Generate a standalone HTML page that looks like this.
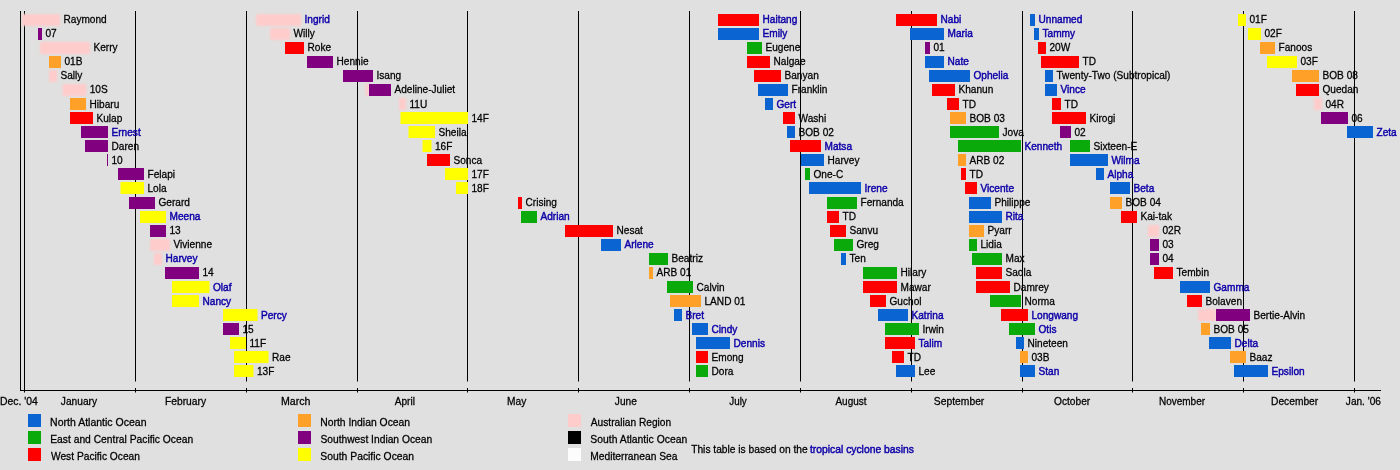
<!DOCTYPE html>
<html lang="en"><head><meta charset="utf-8"><title>Tropical cyclones in 2005 timeline</title>
<style>html,body{margin:0;padding:0;background:#e0e0e0;overflow:hidden}svg{display:block}</style></head>
<body>
<svg width="1400" height="470" viewBox="0 0 1400 470" font-family="'Liberation Sans', sans-serif" font-size="11.0">
<rect width="1400" height="470" fill="#e0e0e0"/>
<g fill="#000">
<rect x="20" y="11" width="1" height="380"/>
<rect x="24" y="11" width="1" height="381.5"/>
<rect x="135" y="11" width="1" height="370.5"/>
<rect x="135" y="388" width="1" height="4.5"/>
<rect x="246" y="11" width="1" height="370.5"/>
<rect x="246" y="388" width="1" height="4.5"/>
<rect x="357" y="11" width="1" height="370.5"/>
<rect x="357" y="388" width="1" height="4.5"/>
<rect x="467" y="11" width="1" height="370.5"/>
<rect x="467" y="388" width="1" height="4.5"/>
<rect x="578" y="11" width="1" height="370.5"/>
<rect x="578" y="388" width="1" height="4.5"/>
<rect x="689" y="11" width="1" height="370.5"/>
<rect x="689" y="388" width="1" height="4.5"/>
<rect x="800" y="11" width="1" height="370.5"/>
<rect x="800" y="388" width="1" height="4.5"/>
<rect x="911" y="11" width="1" height="370.5"/>
<rect x="911" y="388" width="1" height="4.5"/>
<rect x="1022" y="11" width="1" height="370.5"/>
<rect x="1022" y="388" width="1" height="4.5"/>
<rect x="1132" y="11" width="1" height="370.5"/>
<rect x="1132" y="388" width="1" height="4.5"/>
<rect x="1243" y="11" width="1" height="370.5"/>
<rect x="1243" y="388" width="1" height="4.5"/>
<rect x="1354" y="11" width="1" height="370.5"/>
<rect x="1354" y="388" width="1" height="4.5"/>
<rect x="20" y="390" width="1361" height="1"/>
</g>
<defs><filter id="soft" x="-20%" y="-20%" width="140%" height="140%"><feGaussianBlur stdDeviation="0.8"/></filter></defs>
<g shape-rendering="auto">
<rect x="22" y="14.00" width="38.00" height="12.0" fill="#ffcccc" filter="url(#soft)"/>
<rect x="38" y="28.00" width="4.00" height="12.0" fill="#800080"/>
<rect x="40" y="42.00" width="50.00" height="12.0" fill="#ffcccc" filter="url(#soft)"/>
<rect x="49" y="56.00" width="12.00" height="12.0" fill="#ffa028"/>
<rect x="49" y="70.00" width="8.00" height="12.0" fill="#ffcccc" filter="url(#soft)"/>
<rect x="62.5" y="84.00" width="23.75" height="12.0" fill="#ffcccc" filter="url(#soft)"/>
<rect x="70" y="98.00" width="16.00" height="12.0" fill="#ffa028"/>
<rect x="70" y="112.00" width="23.00" height="12.0" fill="#ff0000"/>
<rect x="81" y="126.00" width="27.00" height="12.0" fill="#800080"/>
<rect x="85" y="140.00" width="23.00" height="12.0" fill="#800080"/>
<rect x="107" y="154.00" width="1.00" height="12.0" fill="#800080"/>
<rect x="118" y="168.00" width="26.00" height="12.0" fill="#800080"/>
<rect x="120.5" y="182.00" width="23.50" height="12.0" fill="#ffff00"/>
<rect x="129" y="197.00" width="26.00" height="12.0" fill="#800080"/>
<rect x="140" y="211.00" width="26.00" height="12.0" fill="#ffff00"/>
<rect x="150" y="225.00" width="16.00" height="12.0" fill="#800080"/>
<rect x="150" y="239.00" width="20.00" height="12.0" fill="#ffcccc" filter="url(#soft)"/>
<rect x="154" y="253.00" width="8.00" height="12.0" fill="#ffcccc" filter="url(#soft)"/>
<rect x="165" y="267.00" width="34.00" height="12.0" fill="#800080"/>
<rect x="172" y="281.00" width="37.50" height="12.0" fill="#ffff00"/>
<rect x="172" y="295.00" width="27.00" height="12.0" fill="#ffff00"/>
<rect x="223" y="309.00" width="34.50" height="12.0" fill="#ffff00"/>
<rect x="223" y="323.00" width="16.00" height="12.0" fill="#800080"/>
<rect x="230" y="337.00" width="16.00" height="12.0" fill="#ffff00"/>
<rect x="234" y="351.00" width="34.50" height="12.0" fill="#ffff00"/>
<rect x="234" y="365.00" width="19.50" height="12.0" fill="#ffff00"/>
<rect x="256" y="14.00" width="45.00" height="12.0" fill="#ffcccc" filter="url(#soft)"/>
<rect x="270" y="28.00" width="20.00" height="12.0" fill="#ffcccc" filter="url(#soft)"/>
<rect x="285" y="42.00" width="19.00" height="12.0" fill="#ff0000"/>
<rect x="307" y="56.00" width="26.00" height="12.0" fill="#800080"/>
<rect x="343" y="70.00" width="30.00" height="12.0" fill="#800080"/>
<rect x="365.5" y="84.00" width="3.50" height="12.0" fill="#ffcccc" filter="url(#soft)"/>
<rect x="369" y="84.00" width="22.00" height="12.0" fill="#800080"/>
<rect x="399" y="98.00" width="7.00" height="12.0" fill="#ffcccc" filter="url(#soft)"/>
<rect x="400.5" y="112.00" width="67.50" height="12.0" fill="#ffff00"/>
<rect x="408.5" y="126.00" width="26.50" height="12.0" fill="#ffff00"/>
<rect x="422.5" y="140.00" width="9.00" height="12.0" fill="#ffff00"/>
<rect x="427" y="154.00" width="23.00" height="12.0" fill="#ff0000"/>
<rect x="445" y="168.00" width="23.00" height="12.0" fill="#ffff00"/>
<rect x="456" y="182.00" width="12.00" height="12.0" fill="#ffff00"/>
<rect x="518" y="197.00" width="4.00" height="12.0" fill="#ff0000"/>
<rect x="521" y="211.00" width="16.00" height="12.0" fill="#0aaa0a"/>
<rect x="565" y="225.00" width="48.00" height="12.0" fill="#ff0000"/>
<rect x="601" y="239.00" width="20.00" height="12.0" fill="#0a64d2"/>
<rect x="649" y="253.00" width="19.00" height="12.0" fill="#0aaa0a"/>
<rect x="649" y="267.00" width="4.00" height="12.0" fill="#ffa028"/>
<rect x="667" y="281.00" width="26.00" height="12.0" fill="#0aaa0a"/>
<rect x="670" y="295.00" width="31.00" height="12.0" fill="#ffa028"/>
<rect x="674" y="309.00" width="8.00" height="12.0" fill="#0a64d2"/>
<rect x="692" y="323.00" width="16.00" height="12.0" fill="#0a64d2"/>
<rect x="696" y="337.00" width="34.00" height="12.0" fill="#0a64d2"/>
<rect x="696" y="351.00" width="12.00" height="12.0" fill="#ff0000"/>
<rect x="696" y="365.00" width="12.00" height="12.0" fill="#0aaa0a"/>
<rect x="718" y="14.00" width="41.00" height="12.0" fill="#ff0000"/>
<rect x="718" y="28.00" width="41.00" height="12.0" fill="#0a64d2"/>
<rect x="747" y="42.00" width="15.00" height="12.0" fill="#0aaa0a"/>
<rect x="747" y="56.00" width="23.00" height="12.0" fill="#ff0000"/>
<rect x="754" y="70.00" width="27.00" height="12.0" fill="#ff0000"/>
<rect x="758" y="84.00" width="30.00" height="12.0" fill="#0a64d2"/>
<rect x="765" y="98.00" width="8.00" height="12.0" fill="#0a64d2"/>
<rect x="783" y="112.00" width="12.00" height="12.0" fill="#ff0000"/>
<rect x="787" y="126.00" width="8.00" height="12.0" fill="#0a64d2"/>
<rect x="790" y="140.00" width="31.00" height="12.0" fill="#ff0000"/>
<rect x="801" y="154.00" width="23.00" height="12.0" fill="#0a64d2"/>
<rect x="805" y="168.00" width="5.00" height="12.0" fill="#0aaa0a"/>
<rect x="809" y="182.00" width="52.00" height="12.0" fill="#0a64d2"/>
<rect x="827" y="197.00" width="30.00" height="12.0" fill="#0aaa0a"/>
<rect x="827" y="211.00" width="12.00" height="12.0" fill="#ff0000"/>
<rect x="830" y="225.00" width="16.00" height="12.0" fill="#ff0000"/>
<rect x="834" y="239.00" width="19.00" height="12.0" fill="#0aaa0a"/>
<rect x="841" y="253.00" width="5.00" height="12.0" fill="#0a64d2"/>
<rect x="863" y="267.00" width="34.00" height="12.0" fill="#0aaa0a"/>
<rect x="863" y="281.00" width="34.00" height="12.0" fill="#ff0000"/>
<rect x="870" y="295.00" width="16.00" height="12.0" fill="#ff0000"/>
<rect x="878" y="309.00" width="30.00" height="12.0" fill="#0a64d2"/>
<rect x="885" y="323.00" width="34.00" height="12.0" fill="#0aaa0a"/>
<rect x="885" y="337.00" width="30.00" height="12.0" fill="#ff0000"/>
<rect x="892" y="351.00" width="12.00" height="12.0" fill="#ff0000"/>
<rect x="896" y="365.00" width="19.00" height="12.0" fill="#0a64d2"/>
<rect x="896" y="14.00" width="41.00" height="12.0" fill="#ff0000"/>
<rect x="910" y="28.00" width="34.00" height="12.0" fill="#0a64d2"/>
<rect x="925" y="42.00" width="5.00" height="12.0" fill="#800080"/>
<rect x="925" y="56.00" width="19.00" height="12.0" fill="#0a64d2"/>
<rect x="929" y="70.00" width="41.00" height="12.0" fill="#0a64d2"/>
<rect x="932" y="84.00" width="23.00" height="12.0" fill="#ff0000"/>
<rect x="947" y="98.00" width="12.00" height="12.0" fill="#ff0000"/>
<rect x="950" y="112.00" width="16.00" height="12.0" fill="#ffa028"/>
<rect x="950" y="126.00" width="49.00" height="12.0" fill="#0aaa0a"/>
<rect x="958" y="140.00" width="63.00" height="12.0" fill="#0aaa0a"/>
<rect x="958" y="154.00" width="8.00" height="12.0" fill="#ffa028"/>
<rect x="961" y="168.00" width="5.00" height="12.0" fill="#ff0000"/>
<rect x="965" y="182.00" width="12.00" height="12.0" fill="#ff0000"/>
<rect x="969" y="197.00" width="22.00" height="12.0" fill="#0a64d2"/>
<rect x="969" y="211.00" width="33.00" height="12.0" fill="#0a64d2"/>
<rect x="969" y="225.00" width="15.00" height="12.0" fill="#ffa028"/>
<rect x="969" y="239.00" width="8.00" height="12.0" fill="#0aaa0a"/>
<rect x="972" y="253.00" width="30.00" height="12.0" fill="#0aaa0a"/>
<rect x="976" y="267.00" width="26.00" height="12.0" fill="#ff0000"/>
<rect x="976" y="281.00" width="34.00" height="12.0" fill="#ff0000"/>
<rect x="990" y="295.00" width="31.00" height="12.0" fill="#0aaa0a"/>
<rect x="1001" y="309.00" width="27.00" height="12.0" fill="#ff0000"/>
<rect x="1009" y="323.00" width="26.00" height="12.0" fill="#0aaa0a"/>
<rect x="1016" y="337.00" width="8.00" height="12.0" fill="#0a64d2"/>
<rect x="1020" y="351.00" width="8.00" height="12.0" fill="#ffa028"/>
<rect x="1020" y="365.00" width="15.00" height="12.0" fill="#0a64d2"/>
<rect x="1030" y="14.00" width="5.00" height="12.0" fill="#0a64d2"/>
<rect x="1034" y="28.00" width="5.00" height="12.0" fill="#0a64d2"/>
<rect x="1038" y="42.00" width="8.00" height="12.0" fill="#ff0000"/>
<rect x="1041" y="56.00" width="38.00" height="12.0" fill="#ff0000"/>
<rect x="1045" y="70.00" width="8.00" height="12.0" fill="#0a64d2"/>
<rect x="1045" y="84.00" width="12.00" height="12.0" fill="#0a64d2"/>
<rect x="1052" y="98.00" width="9.00" height="12.0" fill="#ff0000"/>
<rect x="1052" y="112.00" width="34.00" height="12.0" fill="#ff0000"/>
<rect x="1060" y="126.00" width="11.00" height="12.0" fill="#800080"/>
<rect x="1070" y="140.00" width="20.00" height="12.0" fill="#0aaa0a"/>
<rect x="1070" y="154.00" width="38.00" height="12.0" fill="#0a64d2"/>
<rect x="1096" y="168.00" width="8.00" height="12.0" fill="#0a64d2"/>
<rect x="1110" y="182.00" width="20.00" height="12.0" fill="#0a64d2"/>
<rect x="1110" y="197.00" width="12.00" height="12.0" fill="#ffa028"/>
<rect x="1121" y="211.00" width="16.00" height="12.0" fill="#ff0000"/>
<rect x="1148" y="225.00" width="11.00" height="12.0" fill="#ffcccc" filter="url(#soft)"/>
<rect x="1150" y="239.00" width="9.00" height="12.0" fill="#800080"/>
<rect x="1150" y="253.00" width="9.00" height="12.0" fill="#800080"/>
<rect x="1154" y="267.00" width="19.00" height="12.0" fill="#ff0000"/>
<rect x="1180" y="281.00" width="30.00" height="12.0" fill="#0a64d2"/>
<rect x="1187" y="295.00" width="15.00" height="12.0" fill="#ff0000"/>
<rect x="1198" y="309.00" width="18.00" height="12.0" fill="#ffcccc" filter="url(#soft)"/>
<rect x="1216" y="309.00" width="34.00" height="12.0" fill="#800080"/>
<rect x="1201" y="323.00" width="9.00" height="12.0" fill="#ffa028"/>
<rect x="1209" y="337.00" width="22.00" height="12.0" fill="#0a64d2"/>
<rect x="1230" y="351.00" width="16.00" height="12.0" fill="#ffa028"/>
<rect x="1234" y="365.00" width="34.00" height="12.0" fill="#0a64d2"/>
<rect x="1238" y="14.00" width="8.00" height="12.0" fill="#ffff00"/>
<rect x="1248" y="28.00" width="13.00" height="12.0" fill="#ffff00"/>
<rect x="1260" y="42.00" width="15.00" height="12.0" fill="#ffa028"/>
<rect x="1267" y="56.00" width="30.00" height="12.0" fill="#ffff00"/>
<rect x="1292" y="70.00" width="27.00" height="12.0" fill="#ffa028"/>
<rect x="1296" y="84.00" width="23.00" height="12.0" fill="#ff0000"/>
<rect x="1314" y="98.00" width="8.00" height="12.0" fill="#ffcccc" filter="url(#soft)"/>
<rect x="1321" y="112.00" width="27.00" height="12.0" fill="#800080"/>
<rect x="1347" y="126.00" width="26.00" height="12.0" fill="#0a64d2"/>
</g>
<text transform="translate(63.50 23.10) scale(0.92 1)" fill="#000000" stroke="#000" stroke-width="0.28">Raymond</text>
<text transform="translate(45.50 37.17) scale(0.92 1)" fill="#000000" stroke="#000" stroke-width="0.28">07</text>
<text transform="translate(93.50 51.25) scale(0.92 1)" fill="#000000" stroke="#000" stroke-width="0.28">Kerry</text>
<text transform="translate(64.50 65.32) scale(0.92 1)" fill="#000000" stroke="#000" stroke-width="0.28">01B</text>
<text transform="translate(60.50 79.40) scale(0.92 1)" fill="#000000" stroke="#000" stroke-width="0.28">Sally</text>
<text transform="translate(89.75 93.47) scale(0.92 1)" fill="#000000" stroke="#000" stroke-width="0.28">10S</text>
<text transform="translate(89.50 107.55) scale(0.92 1)" fill="#000000" stroke="#000" stroke-width="0.28">Hibaru</text>
<text transform="translate(96.50 121.62) scale(0.92 1)" fill="#000000" stroke="#000" stroke-width="0.28">Kulap</text>
<text transform="translate(111.50 135.70) scale(0.92 1)" fill="#0d00a8" stroke="#0d00a8" stroke-width="0.45">Ernest</text>
<text transform="translate(111.50 149.78) scale(0.92 1)" fill="#000000" stroke="#000" stroke-width="0.28">Daren</text>
<text transform="translate(111.50 163.85) scale(0.92 1)" fill="#000000" stroke="#000" stroke-width="0.28">10</text>
<text transform="translate(147.50 177.92) scale(0.92 1)" fill="#000000" stroke="#000" stroke-width="0.28">Felapi</text>
<text transform="translate(147.50 192.00) scale(0.92 1)" fill="#000000" stroke="#000" stroke-width="0.28">Lola</text>
<text transform="translate(158.50 206.07) scale(0.92 1)" fill="#000000" stroke="#000" stroke-width="0.28">Gerard</text>
<text transform="translate(169.50 220.15) scale(0.92 1)" fill="#0d00a8" stroke="#0d00a8" stroke-width="0.45">Meena</text>
<text transform="translate(169.50 234.22) scale(0.92 1)" fill="#000000" stroke="#000" stroke-width="0.28">13</text>
<text transform="translate(173.50 248.30) scale(0.92 1)" fill="#000000" stroke="#000" stroke-width="0.28">Vivienne</text>
<text transform="translate(165.50 262.38) scale(0.92 1)" fill="#0d00a8" stroke="#0d00a8" stroke-width="0.45">Harvey</text>
<text transform="translate(202.50 276.45) scale(0.92 1)" fill="#000000" stroke="#000" stroke-width="0.28">14</text>
<text transform="translate(213.00 290.53) scale(0.92 1)" fill="#0d00a8" stroke="#0d00a8" stroke-width="0.45">Olaf</text>
<text transform="translate(202.50 304.60) scale(0.92 1)" fill="#0d00a8" stroke="#0d00a8" stroke-width="0.45">Nancy</text>
<text transform="translate(261.00 318.68) scale(0.92 1)" fill="#0d00a8" stroke="#0d00a8" stroke-width="0.45">Percy</text>
<text transform="translate(242.50 332.75) scale(0.92 1)" fill="#000000" stroke="#000" stroke-width="0.28">15</text>
<text transform="translate(249.50 346.82) scale(0.92 1)" fill="#000000" stroke="#000" stroke-width="0.28">11F</text>
<text transform="translate(272.00 360.90) scale(0.92 1)" fill="#000000" stroke="#000" stroke-width="0.28">Rae</text>
<text transform="translate(257.00 374.98) scale(0.92 1)" fill="#000000" stroke="#000" stroke-width="0.28">13F</text>
<text transform="translate(304.50 23.10) scale(0.92 1)" fill="#0d00a8" stroke="#0d00a8" stroke-width="0.45">Ingrid</text>
<text transform="translate(293.50 37.17) scale(0.92 1)" fill="#000000" stroke="#000" stroke-width="0.28">Willy</text>
<text transform="translate(307.50 51.25) scale(0.92 1)" fill="#000000" stroke="#000" stroke-width="0.28">Roke</text>
<text transform="translate(336.50 65.32) scale(0.92 1)" fill="#000000" stroke="#000" stroke-width="0.28">Hennie</text>
<text transform="translate(376.50 79.40) scale(0.92 1)" fill="#000000" stroke="#000" stroke-width="0.28">Isang</text>
<text transform="translate(394.50 93.47) scale(0.92 1)" fill="#000000" stroke="#000" stroke-width="0.28">Adeline-Juliet</text>
<text transform="translate(409.50 107.55) scale(0.92 1)" fill="#000000" stroke="#000" stroke-width="0.28">11U</text>
<text transform="translate(471.50 121.62) scale(0.92 1)" fill="#000000" stroke="#000" stroke-width="0.28">14F</text>
<text transform="translate(438.50 135.70) scale(0.92 1)" fill="#000000" stroke="#000" stroke-width="0.28">Sheila</text>
<text transform="translate(435.00 149.78) scale(0.92 1)" fill="#000000" stroke="#000" stroke-width="0.28">16F</text>
<text transform="translate(453.50 163.85) scale(0.92 1)" fill="#000000" stroke="#000" stroke-width="0.28">Sonca</text>
<text transform="translate(471.50 177.92) scale(0.92 1)" fill="#000000" stroke="#000" stroke-width="0.28">17F</text>
<text transform="translate(471.50 192.00) scale(0.92 1)" fill="#000000" stroke="#000" stroke-width="0.28">18F</text>
<text transform="translate(525.50 206.07) scale(0.92 1)" fill="#000000" stroke="#000" stroke-width="0.28">Crising</text>
<text transform="translate(540.50 220.15) scale(0.92 1)" fill="#0d00a8" stroke="#0d00a8" stroke-width="0.45">Adrian</text>
<text transform="translate(616.50 234.22) scale(0.92 1)" fill="#000000" stroke="#000" stroke-width="0.28">Nesat</text>
<text transform="translate(624.50 248.30) scale(0.92 1)" fill="#0d00a8" stroke="#0d00a8" stroke-width="0.45">Arlene</text>
<text transform="translate(671.50 262.38) scale(0.92 1)" fill="#000000" stroke="#000" stroke-width="0.28">Beatriz</text>
<text transform="translate(656.50 276.45) scale(0.92 1)" fill="#000000" stroke="#000" stroke-width="0.28">ARB 01</text>
<text transform="translate(696.50 290.53) scale(0.92 1)" fill="#000000" stroke="#000" stroke-width="0.28">Calvin</text>
<text transform="translate(704.50 304.60) scale(0.92 1)" fill="#000000" stroke="#000" stroke-width="0.28">LAND 01</text>
<text transform="translate(685.50 318.68) scale(0.92 1)" fill="#0d00a8" stroke="#0d00a8" stroke-width="0.45">Bret</text>
<text transform="translate(711.50 332.75) scale(0.92 1)" fill="#0d00a8" stroke="#0d00a8" stroke-width="0.45">Cindy</text>
<text transform="translate(733.50 346.82) scale(0.92 1)" fill="#0d00a8" stroke="#0d00a8" stroke-width="0.45">Dennis</text>
<text transform="translate(711.50 360.90) scale(0.92 1)" fill="#000000" stroke="#000" stroke-width="0.28">Emong</text>
<text transform="translate(711.50 374.98) scale(0.92 1)" fill="#000000" stroke="#000" stroke-width="0.28">Dora</text>
<text transform="translate(762.50 23.10) scale(0.92 1)" fill="#0d00a8" stroke="#0d00a8" stroke-width="0.45">Haitang</text>
<text transform="translate(762.50 37.17) scale(0.92 1)" fill="#0d00a8" stroke="#0d00a8" stroke-width="0.45">Emily</text>
<text transform="translate(765.50 51.25) scale(0.92 1)" fill="#000000" stroke="#000" stroke-width="0.28">Eugene</text>
<text transform="translate(773.50 65.32) scale(0.92 1)" fill="#000000" stroke="#000" stroke-width="0.28">Nalgae</text>
<text transform="translate(784.50 79.40) scale(0.92 1)" fill="#000000" stroke="#000" stroke-width="0.28">Banyan</text>
<text transform="translate(791.50 93.47) scale(0.92 1)" fill="#000000" stroke="#000" stroke-width="0.28">Franklin</text>
<text transform="translate(776.50 107.55) scale(0.92 1)" fill="#0d00a8" stroke="#0d00a8" stroke-width="0.45">Gert</text>
<text transform="translate(798.50 121.62) scale(0.92 1)" fill="#000000" stroke="#000" stroke-width="0.28">Washi</text>
<text transform="translate(798.50 135.70) scale(0.92 1)" fill="#000000" stroke="#000" stroke-width="0.28">BOB 02</text>
<text transform="translate(824.50 149.78) scale(0.92 1)" fill="#0d00a8" stroke="#0d00a8" stroke-width="0.45">Matsa</text>
<text transform="translate(827.50 163.85) scale(0.92 1)" fill="#000000" stroke="#000" stroke-width="0.28">Harvey</text>
<text transform="translate(813.50 177.92) scale(0.92 1)" fill="#000000" stroke="#000" stroke-width="0.28">One-C</text>
<text transform="translate(864.50 192.00) scale(0.92 1)" fill="#0d00a8" stroke="#0d00a8" stroke-width="0.45">Irene</text>
<text transform="translate(860.50 206.07) scale(0.92 1)" fill="#000000" stroke="#000" stroke-width="0.28">Fernanda</text>
<text transform="translate(842.50 220.15) scale(0.92 1)" fill="#000000" stroke="#000" stroke-width="0.28">TD</text>
<text transform="translate(849.50 234.22) scale(0.92 1)" fill="#000000" stroke="#000" stroke-width="0.28">Sanvu</text>
<text transform="translate(856.50 248.30) scale(0.92 1)" fill="#000000" stroke="#000" stroke-width="0.28">Greg</text>
<text transform="translate(849.50 262.38) scale(0.92 1)" fill="#000000" stroke="#000" stroke-width="0.28">Ten</text>
<text transform="translate(900.50 276.45) scale(0.92 1)" fill="#000000" stroke="#000" stroke-width="0.28">Hilary</text>
<text transform="translate(900.50 290.53) scale(0.92 1)" fill="#000000" stroke="#000" stroke-width="0.28">Mawar</text>
<text transform="translate(889.50 304.60) scale(0.92 1)" fill="#000000" stroke="#000" stroke-width="0.28">Guchol</text>
<text transform="translate(911.50 318.68) scale(0.92 1)" fill="#0d00a8" stroke="#0d00a8" stroke-width="0.45">Katrina</text>
<text transform="translate(922.50 332.75) scale(0.92 1)" fill="#000000" stroke="#000" stroke-width="0.28">Irwin</text>
<text transform="translate(918.50 346.82) scale(0.92 1)" fill="#0d00a8" stroke="#0d00a8" stroke-width="0.45">Talim</text>
<text transform="translate(907.50 360.90) scale(0.92 1)" fill="#000000" stroke="#000" stroke-width="0.28">TD</text>
<text transform="translate(918.50 374.98) scale(0.92 1)" fill="#000000" stroke="#000" stroke-width="0.28">Lee</text>
<text transform="translate(940.50 23.10) scale(0.92 1)" fill="#0d00a8" stroke="#0d00a8" stroke-width="0.45">Nabi</text>
<text transform="translate(947.50 37.17) scale(0.92 1)" fill="#0d00a8" stroke="#0d00a8" stroke-width="0.45">Maria</text>
<text transform="translate(933.50 51.25) scale(0.92 1)" fill="#000000" stroke="#000" stroke-width="0.28">01</text>
<text transform="translate(947.50 65.32) scale(0.92 1)" fill="#0d00a8" stroke="#0d00a8" stroke-width="0.45">Nate</text>
<text transform="translate(973.50 79.40) scale(0.92 1)" fill="#0d00a8" stroke="#0d00a8" stroke-width="0.45">Ophelia</text>
<text transform="translate(958.50 93.47) scale(0.92 1)" fill="#000000" stroke="#000" stroke-width="0.28">Khanun</text>
<text transform="translate(962.50 107.55) scale(0.92 1)" fill="#000000" stroke="#000" stroke-width="0.28">TD</text>
<text transform="translate(969.50 121.62) scale(0.92 1)" fill="#000000" stroke="#000" stroke-width="0.28">BOB 03</text>
<text transform="translate(1002.50 135.70) scale(0.92 1)" fill="#000000" stroke="#000" stroke-width="0.28">Jova</text>
<text transform="translate(1024.50 149.78) scale(0.92 1)" fill="#0d00a8" stroke="#0d00a8" stroke-width="0.45">Kenneth</text>
<text transform="translate(969.50 163.85) scale(0.92 1)" fill="#000000" stroke="#000" stroke-width="0.28">ARB 02</text>
<text transform="translate(969.50 177.92) scale(0.92 1)" fill="#000000" stroke="#000" stroke-width="0.28">TD</text>
<text transform="translate(980.50 192.00) scale(0.92 1)" fill="#0d00a8" stroke="#0d00a8" stroke-width="0.45">Vicente</text>
<text transform="translate(994.50 206.07) scale(0.92 1)" fill="#000000" stroke="#000" stroke-width="0.28">Philippe</text>
<text transform="translate(1005.50 220.15) scale(0.92 1)" fill="#0d00a8" stroke="#0d00a8" stroke-width="0.45">Rita</text>
<text transform="translate(987.50 234.22) scale(0.92 1)" fill="#000000" stroke="#000" stroke-width="0.28">Pyarr</text>
<text transform="translate(980.50 248.30) scale(0.92 1)" fill="#000000" stroke="#000" stroke-width="0.28">Lidia</text>
<text transform="translate(1005.50 262.38) scale(0.92 1)" fill="#000000" stroke="#000" stroke-width="0.28">Max</text>
<text transform="translate(1005.50 276.45) scale(0.92 1)" fill="#000000" stroke="#000" stroke-width="0.28">Saola</text>
<text transform="translate(1013.50 290.53) scale(0.92 1)" fill="#000000" stroke="#000" stroke-width="0.28">Damrey</text>
<text transform="translate(1024.50 304.60) scale(0.92 1)" fill="#000000" stroke="#000" stroke-width="0.28">Norma</text>
<text transform="translate(1031.50 318.68) scale(0.92 1)" fill="#0d00a8" stroke="#0d00a8" stroke-width="0.45">Longwang</text>
<text transform="translate(1038.50 332.75) scale(0.92 1)" fill="#0d00a8" stroke="#0d00a8" stroke-width="0.45">Otis</text>
<text transform="translate(1027.50 346.82) scale(0.92 1)" fill="#000000" stroke="#000" stroke-width="0.28">Nineteen</text>
<text transform="translate(1031.50 360.90) scale(0.92 1)" fill="#000000" stroke="#000" stroke-width="0.28">03B</text>
<text transform="translate(1038.50 374.98) scale(0.92 1)" fill="#0d00a8" stroke="#0d00a8" stroke-width="0.45">Stan</text>
<text transform="translate(1038.50 23.10) scale(0.92 1)" fill="#0d00a8" stroke="#0d00a8" stroke-width="0.45">Unnamed</text>
<text transform="translate(1042.50 37.17) scale(0.92 1)" fill="#0d00a8" stroke="#0d00a8" stroke-width="0.45">Tammy</text>
<text transform="translate(1049.50 51.25) scale(0.92 1)" fill="#000000" stroke="#000" stroke-width="0.28">20W</text>
<text transform="translate(1082.50 65.32) scale(0.92 1)" fill="#000000" stroke="#000" stroke-width="0.28">TD</text>
<text transform="translate(1056.50 79.40) scale(0.92 1)" fill="#000000" stroke="#000" stroke-width="0.28">Twenty-Two (Subtropical)</text>
<text transform="translate(1060.50 93.47) scale(0.92 1)" fill="#0d00a8" stroke="#0d00a8" stroke-width="0.45">Vince</text>
<text transform="translate(1064.50 107.55) scale(0.92 1)" fill="#000000" stroke="#000" stroke-width="0.28">TD</text>
<text transform="translate(1089.50 121.62) scale(0.92 1)" fill="#000000" stroke="#000" stroke-width="0.28">Kirogi</text>
<text transform="translate(1074.50 135.70) scale(0.92 1)" fill="#000000" stroke="#000" stroke-width="0.28">02</text>
<text transform="translate(1093.50 149.78) scale(0.92 1)" fill="#000000" stroke="#000" stroke-width="0.28">Sixteen-E</text>
<text transform="translate(1111.50 163.85) scale(0.92 1)" fill="#0d00a8" stroke="#0d00a8" stroke-width="0.45">Wilma</text>
<text transform="translate(1107.50 177.92) scale(0.92 1)" fill="#0d00a8" stroke="#0d00a8" stroke-width="0.45">Alpha</text>
<text transform="translate(1133.50 192.00) scale(0.92 1)" fill="#0d00a8" stroke="#0d00a8" stroke-width="0.45">Beta</text>
<text transform="translate(1125.50 206.07) scale(0.92 1)" fill="#000000" stroke="#000" stroke-width="0.28">BOB 04</text>
<text transform="translate(1140.50 220.15) scale(0.92 1)" fill="#000000" stroke="#000" stroke-width="0.28">Kai-tak</text>
<text transform="translate(1162.50 234.22) scale(0.92 1)" fill="#000000" stroke="#000" stroke-width="0.28">02R</text>
<text transform="translate(1162.50 248.30) scale(0.92 1)" fill="#000000" stroke="#000" stroke-width="0.28">03</text>
<text transform="translate(1162.50 262.38) scale(0.92 1)" fill="#000000" stroke="#000" stroke-width="0.28">04</text>
<text transform="translate(1176.50 276.45) scale(0.92 1)" fill="#000000" stroke="#000" stroke-width="0.28">Tembin</text>
<text transform="translate(1213.50 290.53) scale(0.92 1)" fill="#0d00a8" stroke="#0d00a8" stroke-width="0.45">Gamma</text>
<text transform="translate(1205.50 304.60) scale(0.92 1)" fill="#000000" stroke="#000" stroke-width="0.28">Bolaven</text>
<text transform="translate(1253.50 318.68) scale(0.92 1)" fill="#000000" stroke="#000" stroke-width="0.28">Bertie-Alvin</text>
<text transform="translate(1213.50 332.75) scale(0.92 1)" fill="#000000" stroke="#000" stroke-width="0.28">BOB 05</text>
<text transform="translate(1234.50 346.82) scale(0.92 1)" fill="#0d00a8" stroke="#0d00a8" stroke-width="0.45">Delta</text>
<text transform="translate(1249.50 360.90) scale(0.92 1)" fill="#000000" stroke="#000" stroke-width="0.28">Baaz</text>
<text transform="translate(1271.50 374.98) scale(0.92 1)" fill="#0d00a8" stroke="#0d00a8" stroke-width="0.45">Epsilon</text>
<text transform="translate(1249.50 23.10) scale(0.92 1)" fill="#000000" stroke="#000" stroke-width="0.28">01F</text>
<text transform="translate(1264.50 37.17) scale(0.92 1)" fill="#000000" stroke="#000" stroke-width="0.28">02F</text>
<text transform="translate(1278.50 51.25) scale(0.92 1)" fill="#000000" stroke="#000" stroke-width="0.28">Fanoos</text>
<text transform="translate(1300.50 65.32) scale(0.92 1)" fill="#000000" stroke="#000" stroke-width="0.28">03F</text>
<text transform="translate(1322.50 79.40) scale(0.92 1)" fill="#000000" stroke="#000" stroke-width="0.28">BOB 08</text>
<text transform="translate(1322.50 93.47) scale(0.92 1)" fill="#000000" stroke="#000" stroke-width="0.28">Quedan</text>
<text transform="translate(1325.50 107.55) scale(0.92 1)" fill="#000000" stroke="#000" stroke-width="0.28">04R</text>
<text transform="translate(1351.50 121.62) scale(0.92 1)" fill="#000000" stroke="#000" stroke-width="0.28">06</text>
<text transform="translate(1376.50 135.70) scale(0.92 1)" fill="#0d00a8" stroke="#0d00a8" stroke-width="0.45">Zeta</text>
<rect x="28" y="414.00" width="13" height="13" fill="#0a64d2"/>
<rect x="28" y="431.00" width="13" height="13" fill="#0aaa0a"/>
<rect x="28" y="448.00" width="13" height="13" fill="#ff0000"/>
<rect x="298" y="414.00" width="13" height="13" fill="#ffa028"/>
<rect x="298" y="431.00" width="13" height="13" fill="#800080"/>
<rect x="298" y="448.00" width="13" height="13" fill="#ffff00"/>
<rect x="568" y="414.00" width="13" height="13" fill="#ffcccc"/>
<rect x="568" y="431.00" width="13" height="13" fill="#000000"/>
<rect x="568" y="448.00" width="13" height="13" fill="#fcfcfc"/>
<text transform="translate(-0.04 404.60) scale(0.9448 1)" fill="#000000" stroke="#000" stroke-width="0.28">Dec. &#39;04</text>
<text transform="translate(60.83 404.60) scale(0.9273 1)" fill="#000000" stroke="#000" stroke-width="0.28">January</text>
<text transform="translate(165.04 404.60) scale(0.9331 1)" fill="#000000" stroke="#000" stroke-width="0.28">February</text>
<text transform="translate(281.02 404.60) scale(0.9666 1)" fill="#000000" stroke="#000" stroke-width="0.28">March</text>
<text transform="translate(394.73 404.60) scale(0.9177 1)" fill="#000000" stroke="#000" stroke-width="0.28">April</text>
<text transform="translate(507.08 404.60) scale(0.9281 1)" fill="#000000" stroke="#000" stroke-width="0.28">May</text>
<text transform="translate(614.85 404.60) scale(0.9199 1)" fill="#000000" stroke="#000" stroke-width="0.28">June</text>
<text transform="translate(729.25 404.60) scale(0.8941 1)" fill="#000000" stroke="#000" stroke-width="0.28">July</text>
<text transform="translate(835.47 404.60) scale(0.9069 1)" fill="#000000" stroke="#000" stroke-width="0.28">August</text>
<text transform="translate(933.85 404.60) scale(0.9386 1)" fill="#000000" stroke="#000" stroke-width="0.28">September</text>
<text transform="translate(1054.06 404.60) scale(0.9239 1)" fill="#000000" stroke="#000" stroke-width="0.28">October</text>
<text transform="translate(1158.97 404.60) scale(0.9076 1)" fill="#000000" stroke="#000" stroke-width="0.28">November</text>
<text transform="translate(1271.07 404.60) scale(0.9278 1)" fill="#000000" stroke="#000" stroke-width="0.28">December</text>
<text transform="translate(1345.84 404.60) scale(0.9199 1)" fill="#000000" stroke="#000" stroke-width="0.28">Jan. &#39;06</text>
<text transform="translate(50.12 425.90) scale(0.9569 1)" fill="#000000" stroke="#000" stroke-width="0.28">North Atlantic Ocean</text>
<text transform="translate(50.22 442.90) scale(0.9363 1)" fill="#000000" stroke="#000" stroke-width="0.28">East and Central Pacific Ocean</text>
<text transform="translate(50.96 459.90) scale(0.9306 1)" fill="#000000" stroke="#000" stroke-width="0.28">West Pacific Ocean</text>
<text transform="translate(320.18 425.90) scale(0.9438 1)" fill="#000000" stroke="#000" stroke-width="0.28">North Indian Ocean</text>
<text transform="translate(320.38 442.90) scale(0.9341 1)" fill="#000000" stroke="#000" stroke-width="0.28">Southwest Indian Ocean</text>
<text transform="translate(320.31 459.90) scale(0.9425 1)" fill="#000000" stroke="#000" stroke-width="0.28">South Pacific Ocean</text>
<text transform="translate(590.78 425.90) scale(0.9271 1)" fill="#000000" stroke="#000" stroke-width="0.28">Australian Region</text>
<text transform="translate(590.30 442.90) scale(0.9439 1)" fill="#000000" stroke="#000" stroke-width="0.28">South Atlantic Ocean</text>
<text transform="translate(590.23 459.90) scale(0.9330 1)" fill="#000000" stroke="#000" stroke-width="0.28">Mediterranean Sea</text>
<text transform="translate(691.19 453.20) scale(0.9302 1)" fill="#000000" stroke="#000" stroke-width="0.28">This table is based on the</text>
<text transform="translate(810.00 453.20) scale(0.9399 1)" fill="#0d00a8" stroke="#0d00a8" stroke-width="0.45">tropical cyclone basins</text>
</svg>
</body></html>
